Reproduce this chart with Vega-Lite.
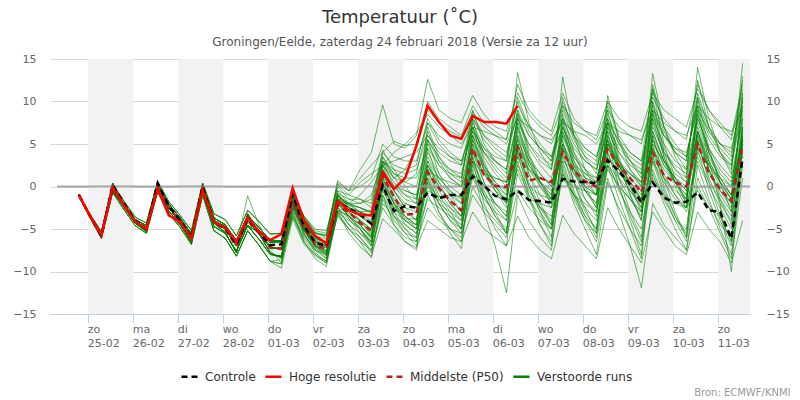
{
"$schema":"https://vega.github.io/schema/vega-lite/v6.json",
"width":700,"height":255,"autosize":"none",
"padding":{"left":50,"top":59,"right":50,"bottom":86},
"background":"white",
"title":{"text":"Temperatuur (˚C)","subtitle":"Groningen/Eelde, zaterdag 24 februari 2018 (Versie za 12 uur)","anchor":"middle","frame":"group","font":"DejaVu Sans","fontSize":18,"fontWeight":"normal","color":"#333333","subtitleFont":"DejaVu Sans","subtitleFontSize":12,"subtitleColor":"#555555","subtitlePadding":10,"offset":5},
"config":{"font":"DejaVu Sans","view":{"stroke":null},
"axis":{"labelFont":"DejaVu Sans","labelFontSize":11,"labelColor":"#666666","titleFont":"DejaVu Sans"},
"legend":{"labelFont":"DejaVu Sans","labelFontSize":12,"labelColor":"#333333","symbolSize":256,"symbolStrokeWidth":2.5,"symbolOpacity":1,"columnPadding":4,"labelOffset":6,"symbolType":"stroke"}},
"datasets":{"runs":[
{"s":"Middelste (P50)","m":"p50","t":[0,1,2,3,4,5,6,7,8,9,10,11,12,13,14,15,16,17,18,19,20,21,22,23,24,25,26,27,28,29,30,31,32,33,34,35,36,37,38,39,40,41,42,43,44,45,46,47,48,49,50,51,52,53,54,55,56,57,58,59],"v":[-1.0,-3.5,-5.7,-0.2,-2.2,-4.1,-4.9,0.0,-2.5,-4.1,-6.0,-0.3,-4.2,-5.0,-7.0,-4.0,-5.5,-7.2,-7.3,-2.1,-4.8,-6.8,-7.4,-2.2,-3.0,-4.3,-5.2,1.3,-1.2,-3.3,-3.2,1.7,-0.2,-1.7,-2.8,4.5,1.4,0.1,-0.1,4.6,0.7,1.0,0.5,4.1,1.8,0.6,0.0,4.4,2.4,1.0,-0.7,4.0,1.3,0.5,0.0,5.0,1.6,-0.3,-1.7,4.9]},
{"s":"Controle","m":"ctl","t":[0,1,2,3,4,5,6,7,8,9,10,11,12,13,14,15,16,17,18,19,20,21,22,23,24,25,26,27,28,29,30,31,32,33,34,35,36,37,38,39,40,41,42,43,44,45,46,47,48,49,50,51,52,53,54,55,56,57,58,59],"v":[-1.0,-3.5,-5.8,0.2,-2.0,-4.0,-5.0,0.4,-2.3,-4.0,-6.0,0.0,-4.2,-4.9,-6.8,-3.8,-5.3,-6.9,-6.8,-0.9,-4.6,-6.6,-7.0,-1.8,-2.6,-3.3,-4.4,0.1,-2.9,-2.3,-2.5,-0.7,-1.4,-1.0,-1.0,1.2,0.1,-1.1,-1.5,-0.5,-1.6,-1.7,-1.9,0.9,0.6,0.5,0.4,3.1,1.8,0.3,-1.9,0.5,-1.3,-1.9,-1.8,-0.7,-2.8,-3.0,-6.1,3.4]},
{"s":"Hoge resolutie","m":"hres","t":[0,1,2,3,4,5,6,7,8,9,10,11,12,13,14,15,16,17,18,19,20,21,22,23,24,25,26,27,28,29,30,31,32,33,34,35,36,37,38,39],"v":[-1.0,-3.5,-5.7,-0.1,-2.2,-4.1,-5.0,-0.3,-3.4,-4.2,-6.1,-0.4,-4.2,-4.8,-6.5,-3.6,-5.3,-6.3,-5.6,-0.2,-4.0,-5.8,-6.7,-1.7,-2.8,-3.3,-3.4,1.7,-0.3,1.0,4.8,9.5,7.6,6.0,5.6,8.3,7.6,7.6,7.4,9.5]},
{"s":"Verstoorde runs","m":"a","t":[0,1,2,3,4,5,6,7,8,9,10,11,12,13,14,15,16,17,18,19,20,21,22,23,24,25,26,27,28,29,30,31,32,33,34,35,36,37,38,39,40,41,42,43,44,45,46,47,48,49,50,51,52,53,54,55,56,57,58,59],"v":[-1.0,-3.5,-5.7,-0.2,-2.2,-4.1,-4.9,0.0,-2.5,-4.1,-6.0,-0.3,-4.2,-5.0,-7.0,-4.0,-5.5,-7.2,-7.3,-0.5,-4.0,-5.8,-6.6,-1.5,-2.5,-3.0,-2.8,2.5,1.0,2.0,4.5,9.0,7.5,6.5,5.8,8.8,7.0,6.0,5.5,9.5,7.2,6.0,5.0,8.0,6.0,4.5,3.5,7.5,5.5,4.0,3.0,8.5,6.0,4.5,4.0,9.0,6.5,5.0,4.5,10.0]},
{"s":"Verstoorde runs","m":"b","t":[0,1,2,3,4,5,6,7,8,9,10,11,12,13,14,15,16,17,18,19,20,21,22,23,24,25,26,27,28,29,30,31,32,33,34,35,36,37,38,39,40,41,42,43,44,45,46,47,48,49,50,51,52,53,54,55,56,57,58,59],"v":[-1.1,-3.6,-5.9,-0.4,-2.4,-4.3,-5.2,-0.3,-2.9,-4.5,-6.4,-0.7,-4.7,-5.5,-7.6,-4.6,-6.2,-8.0,-8.2,-1.5,-5.5,-7.5,-8.5,-1.0,-3.8,-5.5,-7.0,0.5,-3.0,-5.0,-6.5,2.0,-1.5,-3.5,-5.0,5.0,0.5,-2.5,-4.0,6.0,1.5,-2.0,-4.5,7.5,2.0,-1.5,-3.5,8.0,3.0,-1.0,-4.0,9.0,3.5,0.0,-2.5,9.5,4.0,0.5,-1.5,10.5]},
{"s":"Verstoorde runs","m":"c","t":[0,1,2,3,4,5,6,7,8,9,10,11,12,13,14,15,16,17,18,19,20,21,22,23,24,25,26,27,28,29,30,31,32,33,34,35,36,37,38,39,40,41,42,43,44,45,46,47,48,49,50,51,52,53,54,55,56,57,58,59],"v":[-0.9,-3.4,-5.5,0.0,-2.0,-3.9,-4.6,0.3,-2.1,-3.7,-5.6,0.1,-3.7,-4.5,-6.4,-3.4,-4.8,-6.4,-6.4,-1.0,-4.2,-6.0,-6.5,-2.0,-2.8,-3.5,-4.2,0.0,-2.5,-2.0,-2.5,-0.5,-1.2,-1.0,-1.2,1.5,0.2,-1.0,-1.8,-0.3,-1.5,-2.0,-2.5,1.0,0.0,-0.5,-1.0,2.5,1.0,-0.5,-2.5,1.0,-1.0,-2.0,-2.5,-0.5,-2.5,-3.5,-6.5,3.0]},
{"s":"Verstoorde runs","m":"d","t":[0,1,2,3,4,5,6,7,8,9,10,11,12,13,14,15,16,17,18,19,20,21,22,23,24,25,26,27,28,29,30,31,32,33,34,35,36,37,38,39,40,41,42,43,44,45,46,47,48,49,50,51,52,53,54,55,56,57,58,59],"v":[-0.9,-3.3,-5.3,0.3,-1.7,-3.6,-4.3,0.6,-1.8,-3.4,-5.2,0.4,-3.2,-3.9,-5.8,-2.8,-4.1,-5.6,-5.5,-0.8,-3.5,-5.2,-5.5,0.5,-0.5,2.0,4.0,9.6,5.0,4.5,6.0,12.6,9.0,8.0,7.5,10.7,8.5,7.0,6.5,11.0,8.5,7.0,6.0,9.5,7.5,6.5,6.0,10.0,8.0,7.0,6.5,11.0,9.0,8.0,7.0,11.5,9.0,7.5,6.0,12.0]},
{"s":"Verstoorde runs","m":"e","t":[0,1,2,3,4,5,6,7,8,9,10,11,12,13,14,15,16,17,18,19,20,21,22,23,24,25,26,27,28,29,30,31,32,33,34,35,36,37,38,39,40,41,42,43,44,45,46,47,48,49,50,51,52,53,54,55,56,57,58,59],"v":[-1.1,-3.7,-6.1,-0.7,-2.7,-4.6,-5.5,-0.6,-3.2,-4.8,-6.8,-1.0,-5.2,-6.1,-8.2,-5.2,-6.9,-8.8,-9.1,-3.0,-6.5,-8.5,-9.4,-3.0,-5.0,-6.5,-8.4,-1.0,-4.5,-6.5,-7.5,1.0,-3.0,-5.5,-7.3,3.0,-2.0,-5.0,-7.0,4.0,-1.0,-4.5,-6.5,5.5,0.5,-3.0,-5.0,6.5,1.0,-3.0,-6.0,5.0,0.0,-3.5,-6.0,4.5,-0.5,-4.0,-7.0,5.0]},
{"s":"Verstoorde runs","m":"f","t":[0,1,2,3,4,5,6,7,8,9,10,11,12,13,14,15,16,17,18,19,20,21,22,23,24,25,26,27,28,29,30,31,32,33,34,35,36,37,38,39,40,41,42,43,44,45,46,47,48,49,50,51,52,53,54,55,56,57,58,59],"v":[-0.9,-3.6,-6.0,0.4,-2.2,-4.3,-5.3,0.5,-2.4,-4.4,-6.6,0.3,-4.3,-5.4,-7.8,-3.2,-5.5,-7.8,-8.4,-1.8,-5.0,-7.0,-7.6,-2.5,-3.2,-4.0,-5.5,2.0,-0.5,-2.5,-3.0,3.5,1.0,-0.5,-2.0,6.0,2.5,0.5,-1.0,7.0,2.5,0.5,-1.5,6.0,2.5,0.5,-1.0,5.5,2.0,0.0,-2.5,6.5,3.0,1.0,-0.5,7.0,3.5,1.0,-1.0,7.5]},
{"s":"Verstoorde runs","m":"g","t":[0,1,2,3,4,5,6,7,8,9,10,11,12,13,14,15,16,17,18,19,20,21,22,23,24,25,26,27,28,29,30,31,32,33,34,35,36,37,38,39,40,41,42,43,44,45,46,47,48,49,50,51,52,53,54,55,56,57,58,59],"v":[-1.1,-3.4,-5.4,-0.6,-2.3,-3.9,-4.6,-0.5,-2.6,-3.9,-5.5,-0.8,-4.0,-4.7,-6.3,-4.6,-5.4,-6.6,-6.5,-0.5,-3.5,-5.5,-5.8,0.2,-1.0,-1.5,-2.0,3.5,1.5,0.5,0.0,5.5,3.5,2.0,1.0,7.5,4.5,3.0,2.0,8.0,5.0,3.5,2.5,9.0,5.5,3.5,2.5,8.5,5.0,3.0,2.0,10.0,6.5,4.0,3.0,10.5,7.0,5.0,4.0,11.0]},
{"s":"Verstoorde runs","m":"h","t":[0,1,2,3,4,5,6,7,8,9,10,11,12,13,14,15,16,17,18,19,20,21,22,23,24,25,26,27,28,29,30,31,32,33,34,35,36,37,38,39,40,41,42,43,44,45,46,47,48,49,50,51,52,53,54,55,56,57,58,59],"v":[-1.1,-3.6,-5.9,-0.4,-2.4,-4.3,-5.2,-0.3,-2.9,-4.5,-6.4,-0.7,-4.7,-5.5,-7.6,-4.6,-6.2,-8.0,-8.2,-2.5,-5.5,-7.8,-8.8,-3.0,-4.0,-5.0,-6.8,0.0,-3.5,-5.5,-6.0,0.5,-3.0,-5.0,-6.5,2.0,-3.0,-7.0,-12.5,-1.0,-4.0,-6.0,-7.5,2.5,-1.5,-4.0,-5.5,4.0,0.0,-3.5,-6.5,3.0,-1.0,-4.0,-5.0,5.0,1.0,-2.0,-4.0,6.0]},
{"s":"Verstoorde runs","m":"i","t":[0,1,2,3,4,5,6,7,8,9,10,11,12,13,14,15,16,17,18,19,20,21,22,23,24,25,26,27,28,29,30,31,32,33,34,35,36,37,38,39,40,41,42,43,44,45,46,47,48,49,50,51,52,53,54,55,56,57,58,59],"v":[-0.9,-3.4,-5.5,0.0,-2.0,-3.9,-4.6,0.3,-2.1,-3.7,-5.6,0.1,-3.7,-4.5,-6.4,-3.4,-4.8,-6.4,-6.4,-1.2,-4.5,-6.2,-7.0,-1.2,-2.0,-2.5,-3.0,4.3,2.0,0.0,-1.5,6.5,3.0,1.0,0.0,5.0,2.0,1.0,0.5,6.0,3.0,1.5,0.0,5.0,2.5,1.5,1.0,4.5,2.0,0.5,-1.0,5.5,2.5,1.0,0.0,6.0,2.5,0.0,-2.0,7.0]},
{"s":"Verstoorde runs","m":"j","t":[0,1,2,3,4,5,6,7,8,9,10,11,12,13,14,15,16,17,18,19,20,21,22,23,24,25,26,27,28,29,30,31,32,33,34,35,36,37,38,39,40,41,42,43,44,45,46,47,48,49,50,51,52,53,54,55,56,57,58,59],"v":[-1.0,-3.5,-5.7,-0.2,-2.2,-4.1,-4.9,0.0,-2.5,-4.1,-6.0,-0.3,-4.2,-5.0,-7.0,-4.0,-5.5,-7.2,-7.3,-2.0,-5.0,-7.0,-7.8,-2.8,-3.5,-4.5,-6.0,0.8,-2.0,-4.0,-5.0,0.0,-2.0,-3.0,-4.0,3.0,0.0,-2.0,-3.5,4.5,0.0,-3.0,-5.0,3.0,-1.0,-4.0,-6.5,1.0,-3.0,-7.0,-11.9,-2.0,-4.5,-6.0,-7.5,1.0,-2.0,-4.5,-6.0,4.0]},
{"s":"Verstoorde runs","m":"k","t":[0,1,2,3,4,5,6,7,8,9,10,11,12,13,14,15,16,17,18,19,20,21,22,23,24,25,26,27,28,29,30,31,32,33,34,35,36,37,38,39,40,41,42,43,44,45,46,47,48,49,50,51,52,53,54,55,56,57,58,59],"v":[-0.9,-3.6,-6.0,0.4,-2.2,-4.3,-5.3,0.5,-2.4,-4.4,-6.6,0.3,-4.3,-5.4,-7.8,-3.2,-5.5,-7.8,-8.4,-1.0,-4.8,-6.8,-7.2,-1.0,-2.5,-3.0,-3.5,3.0,0.0,-1.5,-2.0,7.0,3.5,1.5,0.5,9.0,5.0,3.0,1.5,13.4,7.5,4.0,2.0,10.5,6.0,3.5,1.5,9.5,5.5,3.0,1.0,12.0,7.0,4.0,2.0,12.5,7.0,4.0,2.0,13.0]},
{"s":"Verstoorde runs","m":"l","t":[0,1,2,3,4,5,6,7,8,9,10,11,12,13,14,15,16,17,18,19,20,21,22,23,24,25,26,27,28,29,30,31,32,33,34,35,36,37,38,39,40,41,42,43,44,45,46,47,48,49,50,51,52,53,54,55,56,57,58,59],"v":[-1.1,-3.6,-5.9,-0.4,-2.4,-4.3,-5.2,-0.3,-2.9,-4.5,-6.4,-0.7,-4.7,-5.5,-7.6,-4.6,-6.2,-8.0,-8.2,-3.5,-6.0,-7.5,-8.0,-3.5,-5.0,-6.5,-7.5,-2.0,-3.5,-4.5,-5.5,-1.5,-2.5,-3.5,-4.5,1.0,-1.5,-3.0,-4.0,2.5,-0.5,-2.5,-4.0,3.5,0.5,-1.5,-3.0,4.0,1.0,-1.5,-3.5,4.5,1.5,-1.0,-3.0,3.0,0.0,-2.5,-5.0,4.5]},
{"s":"Verstoorde runs","m":"m","t":[0,1,2,3,4,5,6,7,8,9,10,11,12,13,14,15,16,17,18,19,20,21,22,23,24,25,26,27,28,29,30,31,32,33,34,35,36,37,38,39,40,41,42,43,44,45,46,47,48,49,50,51,52,53,54,55,56,57,58,59],"v":[-0.9,-3.3,-5.3,0.3,-1.7,-3.6,-4.3,0.6,-1.8,-3.4,-5.2,0.4,-3.2,-3.9,-5.8,-2.8,-4.1,-5.6,-5.5,-0.8,-3.8,-5.5,-6.0,0.0,-1.5,-2.0,-1.5,4.0,2.5,2.0,2.5,8.0,5.5,4.0,3.0,6.5,4.5,3.5,3.0,9.0,6.0,4.5,3.5,8.0,5.0,3.0,2.0,7.0,4.5,3.0,1.5,8.0,5.0,3.0,2.0,8.5,5.5,3.5,2.5,9.0]},
{"s":"Verstoorde runs","m":"n","t":[0,1,2,3,4,5,6,7,8,9,10,11,12,13,14,15,16,17,18,19,20,21,22,23,24,25,26,27,28,29,30,31,32,33,34,35,36,37,38,39,40,41,42,43,44,45,46,47,48,49,50,51,52,53,54,55,56,57,58,59],"v":[-1.1,-3.4,-5.4,-0.6,-2.3,-3.9,-4.6,-0.5,-2.6,-3.9,-5.5,-0.8,-4.0,-4.7,-6.3,-4.6,-5.4,-6.6,-6.5,-2.2,-4.6,-6.5,-7.0,-2.0,-3.0,-4.0,-5.0,1.5,-1.0,-3.0,-4.0,2.5,0.0,-1.5,-3.0,4.5,1.5,0.0,-1.0,5.5,2.0,0.5,-0.5,4.0,1.5,0.0,-1.0,3.5,1.5,0.0,-1.5,4.0,1.0,-0.5,-1.5,5.5,2.0,-0.5,-2.5,5.0]},
{"s":"Verstoorde runs","m":"o","t":[0,1,2,3,4,5,6,7,8,9,10,11,12,13,14,15,16,17,18,19,20,21,22,23,24,25,26,27,28,29,30,31,32,33,34,35,36,37,38,39,40,41,42,43,44,45,46,47,48,49,50,51,52,53,54,55,56,57,58,59],"v":[-1.0,-3.5,-5.7,-0.2,-2.2,-4.1,-4.9,0.0,-2.5,-4.1,-6.0,-0.3,-4.2,-5.0,-7.0,-1.1,-4.5,-7.2,-7.3,-1.5,-4.8,-6.5,-7.0,-1.8,-2.0,-1.0,0.5,2.5,3.0,3.5,4.0,6.0,4.5,3.5,3.0,7.0,4.0,2.0,0.5,5.5,2.5,0.5,-1.0,6.5,3.0,1.0,0.0,6.0,3.0,1.0,-0.5,7.0,4.0,2.0,1.0,8.0,4.5,2.0,0.5,8.0]},
{"s":"Verstoorde runs","m":"p","t":[0,1,2,3,4,5,6,7,8,9,10,11,12,13,14,15,16,17,18,19,20,21,22,23,24,25,26,27,28,29,30,31,32,33,34,35,36,37,38,39,40,41,42,43,44,45,46,47,48,49,50,51,52,53,54,55,56,57,58,59],"v":[-1.1,-3.7,-6.1,-0.7,-2.7,-4.6,-5.5,-0.6,-3.2,-4.8,-6.8,-1.0,-5.2,-6.1,-8.2,-5.2,-6.9,-8.8,-9.6,-3.8,-6.8,-8.0,-9.0,-2.5,-4.5,-6.0,-7.8,-1.5,-4.0,-5.5,-7.0,-1.0,-3.5,-5.0,-6.0,0.0,-2.5,-4.0,-5.5,1.5,-1.5,-3.5,-5.0,1.5,-1.0,-3.5,-5.0,3.0,-0.5,-3.0,-5.0,2.0,-1.5,-4.0,-6.5,2.5,-1.5,-5.0,-8.0,2.5]},
{"s":"Verstoorde runs","m":"q","t":[0,1,2,3,4,5,6,7,8,9,10,11,12,13,14,15,16,17,18,19,20,21,22,23,24,25,26,27,28,29,30,31,32,33,34,35,36,37,38,39,40,41,42,43,44,45,46,47,48,49,50,51,52,53,54,55,56,57,58,59],"v":[-0.9,-3.4,-5.5,0.0,-2.0,-3.9,-4.6,0.3,-2.1,-3.7,-5.6,0.1,-3.7,-4.5,-6.4,-3.4,-4.8,-6.4,-6.4,-1.0,-4.0,-6.0,-6.8,-1.5,-2.0,-2.0,-1.0,3.0,1.5,1.0,1.0,4.5,2.5,1.5,1.0,8.0,5.5,4.0,3.0,10.5,7.0,5.0,3.5,7.0,4.5,3.0,2.0,6.5,4.0,2.5,1.5,9.0,6.0,4.5,3.5,10.0,6.5,4.5,3.0,9.5]},
{"s":"Verstoorde runs","m":"r","t":[0,1,2,3,4,5,6,7,8,9,10,11,12,13,14,15,16,17,18,19,20,21,22,23,24,25,26,27,28,29,30,31,32,33,34,35,36,37,38,39,40,41,42,43,44,45,46,47,48,49,50,51,52,53,54,55,56,57,58,59],"v":[-0.9,-3.6,-6.0,0.4,-2.2,-4.3,-5.3,0.5,-2.4,-4.4,-6.6,0.3,-4.3,-5.4,-7.8,-3.2,-5.5,-7.8,-8.4,-2.0,-5.2,-7.2,-8.2,-2.0,-3.5,-5.0,-6.5,1.8,-1.5,-3.5,-5.0,4.5,0.5,-2.0,-3.5,7.0,2.5,-0.5,-2.5,8.5,3.5,0.5,-1.5,12.9,6.0,2.0,-0.5,9.0,3.5,0.0,-3.0,10.0,4.0,0.5,-2.0,9.0,3.0,-2.0,-10.0,6.5]},
{"s":"Verstoorde runs","m":"s","t":[0,1,2,3,4,5,6,7,8,9,10,11,12,13,14,15,16,17,18,19,20,21,22,23,24,25,26,27,28,29,30,31,32,33,34,35,36,37,38,39,40,41,42,43,44,45,46,47,48,49,50,51,52,53,54,55,56,57,58,59],"v":[-1.0,-3.5,-5.7,-0.2,-2.2,-4.1,-4.9,0.0,-2.5,-4.1,-6.0,-0.3,-4.2,-5.0,-7.0,-4.0,-5.5,-7.2,-7.3,-2.6,-5.2,-7.0,-7.9,-2.8,-3.4,-4.8,-5.8,1.0,-1.8,-3.8,-3.8,2.5,0.5,-1.0,-2.0,5.5,2.5,0.5,-0.5,3.5,0.0,-1.0,-1.5,4.5,2.0,0.0,-1.0,5.0,2.5,1.5,0.5,4.5,2.0,0.5,-1.0,6.5,2.5,0.5,-1.0,5.5]},
{"s":"Verstoorde runs","m":"t","t":[0,1,2,3,4,5,6,7,8,9,10,11,12,13,14,15,16,17,18,19,20,21,22,23,24,25,26,27,28,29,30,31,32,33,34,35,36,37,38,39,40,41,42,43,44,45,46,47,48,49,50,51,52,53,54,55,56,57,58,59],"v":[-1.1,-3.4,-5.4,-0.6,-2.3,-3.9,-4.6,-0.5,-2.6,-3.9,-5.5,-0.8,-4.0,-4.7,-6.3,-4.6,-5.4,-6.6,-6.5,-1.5,-4.4,-6.3,-7.0,-0.8,-2.5,-4.0,-5.8,0.5,-2.0,-4.5,-5.5,1.0,-2.0,-4.0,-5.0,2.5,-1.0,-3.5,-5.0,3.0,-1.5,-4.5,-7.0,2.0,-2.0,-5.0,-8.0,0.5,-2.5,-5.0,-7.0,1.5,-2.0,-5.0,-7.5,0.0,-2.5,-5.5,-8.5,1.0]},
{"s":"Verstoorde runs","m":"u","t":[0,1,2,3,4,5,6,7,8,9,10,11,12,13,14,15,16,17,18,19,20,21,22,23,24,25,26,27,28,29,30,31,32,33,34,35,36,37,38,39,40,41,42,43,44,45,46,47,48,49,50,51,52,53,54,55,56,57,58,59],"v":[-0.9,-3.4,-5.5,0.0,-2.0,-3.9,-4.6,0.3,-2.1,-3.7,-5.6,0.1,-3.7,-4.5,-6.4,-3.4,-4.8,-6.4,-6.4,-0.8,-3.5,-5.0,-5.2,-0.5,-1.0,0.5,1.5,2.5,4.0,5.0,6.3,8.5,7.0,6.0,5.0,7.0,6.5,6.0,5.0,8.0,7.0,6.0,5.5,7.5,6.5,6.0,5.0,7.5,6.5,6.0,5.5,9.0,7.5,6.5,6.0,9.5,8.0,7.0,6.5,9.0]},
{"s":"Verstoorde runs","m":"v","t":[0,1,2,3,4,5,6,7,8,9,10,11,12,13,14,15,16,17,18,19,20,21,22,23,24,25,26,27,28,29,30,31,32,33,34,35,36,37,38,39,40,41,42,43,44,45,46,47,48,49,50,51,52,53,54,55,56,57,58,59],"v":[-1.1,-3.6,-5.9,-0.4,-2.4,-4.3,-5.2,-0.3,-2.9,-4.5,-6.4,-0.7,-4.7,-5.5,-7.6,-4.6,-6.2,-8.0,-8.2,-2.8,-5.8,-7.2,-8.0,-2.8,-4.5,-5.5,-6.5,-0.5,-3.0,-4.0,-4.5,3.0,0.0,-2.0,-3.5,6.0,2.0,-0.5,-2.0,7.5,3.0,0.0,-2.0,8.5,4.0,1.0,-1.0,10.7,5.5,2.0,0.0,13.3,7.0,3.5,1.0,14.0,8.0,4.0,1.5,14.5]},
{"s":"Verstoorde runs","m":"w","t":[0,1,2,3,4,5,6,7,8,9,10,11,12,13,14,15,16,17,18,19,20,21,22,23,24,25,26,27,28,29,30,31,32,33,34,35,36,37,38,39,40,41,42,43,44,45,46,47,48,49,50,51,52,53,54,55,56,57,58,59],"v":[-1.0,-3.5,-5.7,-0.2,-2.2,-4.1,-4.9,0.0,-2.5,-4.1,-6.0,-0.3,-4.2,-5.0,-7.0,-4.0,-5.5,-7.2,-7.3,-1.2,-4.3,-6.0,-6.5,-0.5,-2.0,-3.0,-4.0,2.5,0.5,-1.0,-2.0,5.0,2.5,1.0,0.0,6.5,3.5,1.5,0.0,7.0,3.5,1.5,0.0,7.0,3.5,1.5,0.5,7.5,4.0,2.0,0.5,8.5,4.5,2.0,0.5,7.5,4.0,1.5,0.0,8.5]},
{"s":"Verstoorde runs","m":"x","t":[0,1,2,3,4,5,6,7,8,9,10,11,12,13,14,15,16,17,18,19,20,21,22,23,24,25,26,27,28,29,30,31,32,33,34,35,36,37,38,39,40,41,42,43,44,45,46,47,48,49,50,51,52,53,54,55,56,57,58,59],"v":[-1.1,-3.7,-6.1,-0.7,-2.7,-4.6,-5.5,-0.6,-3.2,-4.8,-6.8,-1.0,-5.2,-6.1,-8.2,-5.2,-6.9,-8.8,-9.1,-3.2,-6.2,-8.0,-8.8,-3.0,-5.5,-7.1,-8.2,-3.8,-5.1,-6.5,-7.2,-4.0,-5.0,-6.0,-6.5,-3.0,-5.0,-6.0,-7.0,-3.5,-6.0,-7.5,-8.5,-3.4,-5.5,-7.0,-8.5,-2.5,-5.0,-7.0,-9.0,-3.0,-5.0,-7.0,-8.0,-3.0,-5.0,-6.5,-9.0,-4.0]},
{"s":"Verstoorde runs","m":"y","t":[0,1,2,3,4,5,6,7,8,9,10,11,12,13,14,15,16,17,18,19,20,21,22,23,24,25,26,27,28,29,30,31,32,33,34,35,36,37,38,39,40,41,42,43,44,45,46,47,48,49,50,51,52,53,54,55,56,57,58,59],"v":[-0.9,-3.6,-6.0,0.4,-2.2,-4.3,-5.3,0.5,-2.4,-4.4,-6.6,0.3,-4.3,-5.4,-7.8,-3.2,-5.5,-7.8,-8.4,-1.5,-5.0,-6.5,-7.0,-1.8,-2.5,-3.0,-4.5,3.5,1.0,-0.5,-1.0,4.0,1.5,0.0,-1.0,5.5,2.0,0.0,-1.5,6.5,3.0,0.5,-1.0,5.0,2.0,-0.5,-2.5,6.0,2.5,0.0,-2.0,6.5,3.0,0.5,-1.5,6.0,2.0,-1.0,-3.0,7.0]},
{"s":"Verstoorde runs","m":"z","t":[0,1,2,3,4,5,6,7,8,9,10,11,12,13,14,15,16,17,18,19,20,21,22,23,24,25,26,27,28,29,30,31,32,33,34,35,36,37,38,39,40,41,42,43,44,45,46,47,48,49,50,51,52,53,54,55,56,57,58,59],"v":[-0.9,-3.4,-5.5,0.0,-2.0,-3.9,-4.6,0.3,-2.1,-3.7,-5.6,0.1,-3.7,-4.5,-6.4,-3.4,-4.8,-6.4,-6.4,-0.6,-3.8,-5.5,-5.8,0.7,-0.5,1.0,2.5,4.0,5.3,4.8,5.0,10.0,8.0,7.0,6.0,9.5,7.5,6.5,5.5,12.0,9.0,7.5,6.5,11.0,8.0,6.5,5.5,9.0,7.0,6.0,5.0,10.5,8.0,6.5,5.5,12.0,9.0,7.0,5.5,11.5]},
{"s":"Verstoorde runs","m":"A","t":[0,1,2,3,4,5,6,7,8,9,10,11,12,13,14,15,16,17,18,19,20,21,22,23,24,25,26,27,28,29,30,31,32,33,34,35,36,37,38,39,40,41,42,43,44,45,46,47,48,49,50,51,52,53,54,55,56,57,58,59],"v":[-1.1,-3.6,-5.9,-0.4,-2.4,-4.3,-5.2,-0.3,-2.9,-4.5,-6.4,-0.7,-4.7,-5.5,-7.6,-4.6,-6.2,-8.0,-8.2,-2.0,-5.2,-7.0,-8.0,-2.5,-3.8,-5.0,-7.0,-1.0,-3.5,-5.0,-6.0,2.0,-1.0,-3.0,-5.0,3.5,-0.5,-3.0,-5.5,4.5,0.0,-3.0,-6.0,5.0,0.5,-2.5,-5.5,5.5,0.0,-4.0,-8.0,6.0,1.0,-3.0,-6.0,5.5,0.5,-3.5,-6.5,5.5]},
{"s":"Verstoorde runs","m":"B","t":[0,1,2,3,4,5,6,7,8,9,10,11,12,13,14,15,16,17,18,19,20,21,22,23,24,25,26,27,28,29,30,31,32,33,34,35,36,37,38,39,40,41,42,43,44,45,46,47,48,49,50,51,52,53,54,55,56,57,58,59],"v":[-1.0,-3.5,-5.7,-0.2,-2.2,-4.1,-4.9,0.0,-2.5,-4.1,-6.0,-0.3,-4.2,-5.0,-7.0,-4.0,-5.5,-7.2,-7.3,-1.8,-4.5,-6.4,-7.2,-1.5,-2.5,-3.5,-4.5,3.0,1.0,0.5,1.5,7.5,5.0,3.5,2.5,8.5,6.0,4.5,3.5,10.0,6.5,4.5,3.0,10.0,6.5,4.5,3.5,8.0,5.0,3.5,2.5,9.5,6.0,4.0,3.0,11.0,7.0,5.0,3.5,12.5]},
{"s":"Verstoorde runs","m":"C","t":[0,1,2,3,4,5,6,7,8,9,10,11,12,13,14,15,16,17,18,19,20,21,22,23,24,25,26,27,28,29,30,31,32,33,34,35,36,37,38,39,40,41,42,43,44,45,46,47,48,49,50,51,52,53,54,55,56,57,58,59],"v":[-1.1,-3.4,-5.4,-0.6,-2.3,-3.9,-4.6,-0.5,-2.6,-3.9,-5.5,-0.8,-4.0,-4.7,-6.3,-4.6,-5.4,-6.6,-6.5,-2.5,-5.0,-6.8,-7.5,-2.0,-3.5,-4.5,-6.0,0.0,-2.5,-3.5,-4.5,0.5,-1.5,-2.5,-3.5,1.5,-1.0,-2.0,-3.0,2.0,-1.0,-2.5,-3.5,1.5,-1.0,-2.0,-3.0,2.5,0.0,-1.5,-3.0,3.0,0.5,-1.5,-2.5,3.5,0.5,-1.5,-3.5,4.0]},
{"s":"Verstoorde runs","m":"D","t":[0,1,2,3,4,5,6,7,8,9,10,11,12,13,14,15,16,17,18,19,20,21,22,23,24,25,26,27,28,29,30,31,32,33,34,35,36,37,38,39,40,41,42,43,44,45,46,47,48,49,50,51,52,53,54,55,56,57,58,59],"v":[-0.9,-3.4,-5.5,0.0,-2.0,-3.9,-4.6,0.3,-2.1,-3.7,-5.6,0.1,-3.7,-4.5,-6.4,-3.4,-4.8,-6.4,-6.4,-1.0,-4.5,-6.0,-6.8,-1.0,-2.2,-2.5,-3.2,2.0,0.0,-1.0,-1.5,5.5,3.0,2.0,1.5,7.0,4.0,2.5,1.0,8.0,4.5,2.5,1.0,6.0,3.5,2.0,1.0,5.0,3.0,1.5,0.0,7.5,4.0,2.5,1.5,8.0,4.5,2.5,1.0,8.0]},
{"s":"Verstoorde runs","m":"E","t":[0,1,2,3,4,5,6,7,8,9,10,11,12,13,14,15,16,17,18,19,20,21,22,23,24,25,26,27,28,29,30,31,32,33,34,35,36,37,38,39,40,41,42,43,44,45,46,47,48,49,50,51,52,53,54,55,56,57,58,59],"v":[-1.1,-3.4,-5.4,-0.6,-2.3,-3.9,-4.6,-0.5,-2.6,-3.9,-5.5,-0.8,-4.0,-4.7,-6.8,-4.6,-5.4,-7.0,-7.5,-1.8,-4.9,-6.9,-7.6,-1.5,-3.0,-4.5,-6.2,1.0,-2.0,-3.5,-4.5,2.5,-0.5,-2.5,-4.0,4.0,0.5,-2.0,-3.5,5.0,1.5,-1.0,-2.5,6.5,2.5,-0.5,-2.0,7.0,3.0,0.5,-1.5,8.0,3.5,0.5,-1.5,8.5,4.0,1.0,-1.0,9.5]},
{"s":"Verstoorde runs","m":"F","t":[0,1,2,3,4,5,6,7,8,9,10,11,12,13,14,15,16,17,18,19,20,21,22,23,24,25,26,27,28,29,30,31,32,33,34,35,36,37,38,39,40,41,42,43,44,45,46,47,48,49,50,51,52,53,54,55,56,57,58,59],"v":[-0.9,-3.4,-5.5,0.0,-2.0,-3.9,-4.6,0.3,-2.1,-3.7,-5.6,0.1,-3.7,-4.5,-6.4,-3.4,-4.8,-6.4,-6.4,-0.9,-4.2,-5.8,-6.2,-0.8,-1.5,-1.5,-2.5,3.0,2.0,1.5,2.0,6.0,4.0,3.0,2.5,6.0,4.0,3.0,2.0,7.5,5.0,3.0,2.0,9.5,6.0,4.0,3.0,10.0,6.0,4.0,3.0,11.5,7.0,5.0,3.5,9.5,6.0,4.0,2.5,10.5]},
{"s":"Verstoorde runs","m":"G","t":[0,1,2,3,4,5,6,7,8,9,10,11,12,13,14,15,16,17,18,19,20,21,22,23,24,25,26,27,28,29,30,31,32,33,34,35,36,37,38,39,40,41,42,43,44,45,46,47,48,49,50,51,52,53,54,55,56,57,58,59],"v":[-1.1,-3.6,-5.9,-0.4,-2.4,-4.3,-5.2,-0.3,-2.9,-4.5,-6.4,-0.7,-4.7,-5.5,-7.6,-4.6,-6.2,-7.5,-9.0,-2.2,-5.6,-7.4,-8.4,-2.0,-3.5,-5.0,-6.5,0.5,-2.5,-4.0,-5.0,1.5,-2.0,-4.0,-5.5,3.5,-1.0,-3.5,-5.5,5.0,0.5,-2.5,-4.5,4.0,-0.5,-3.5,-6.0,2.5,-1.5,-5.0,-8.5,3.5,-0.5,-3.5,-5.5,6.5,2.0,-1.5,-4.5,7.0]},
{"s":"Verstoorde runs","m":"H","t":[0,1,2,3,4,5,6,7,8,9,10,11,12,13,14,15,16,17,18,19,20,21,22,23,24,25,26,27,28,29,30,31,32,33,34,35,36,37,38,39,40,41,42,43,44,45,46,47,48,49,50,51,52,53,54,55,56,57,58,59],"v":[-1.0,-3.5,-5.7,-0.2,-2.2,-4.1,-4.9,0.0,-2.5,-4.1,-6.0,-0.3,-4.2,-5.0,-7.0,-4.0,-5.5,-7.2,-7.3,-1.5,-4.5,-6.0,-6.8,-1.0,-2.0,-2.5,-3.0,1.0,0.0,-0.5,-1.0,2.0,1.0,0.5,0.0,3.0,1.5,1.0,0.5,3.5,2.0,1.0,0.5,3.0,2.0,1.0,0.5,4.5,2.5,1.5,0.5,5.0,3.0,1.5,0.5,4.5,2.5,1.0,0.0,5.5]},
{"s":"Verstoorde runs","m":"I","t":[0,1,2,3,4,5,6,7,8,9,10,11,12,13,14,15,16,17,18,19,20,21,22,23,24,25,26,27,28,29,30,31,32,33,34,35,36,37,38,39,40,41,42,43,44,45,46,47,48,49,50,51,52,53,54,55,56,57,58,59],"v":[-0.9,-3.6,-6.0,0.4,-2.2,-4.3,-5.3,0.5,-2.4,-4.4,-6.6,0.3,-4.3,-5.4,-7.8,-3.2,-5.5,-7.8,-8.4,-1.2,-4.9,-7.0,-7.8,-1.5,-3.0,-4.0,-5.0,2.5,-0.5,-2.5,-4.0,5.5,1.5,-1.0,-3.0,8.0,3.0,0.0,-2.0,9.0,4.0,0.5,-2.0,8.0,3.0,0.0,-2.5,7.5,2.5,-1.0,-4.0,11.5,5.0,1.0,-2.0,10.5,4.5,0.5,-3.0,11.0]},
{"s":"Verstoorde runs","m":"J","t":[0,1,2,3,4,5,6,7,8,9,10,11,12,13,14,15,16,17,18,19,20,21,22,23,24,25,26,27,28,29,30,31,32,33,34,35,36,37,38,39,40,41,42,43,44,45,46,47,48,49,50,51,52,53,54,55,56,57,58,59],"v":[-0.9,-3.3,-5.3,0.3,-1.7,-3.6,-4.3,0.6,-1.8,-3.4,-5.2,0.4,-3.2,-3.9,-5.8,-2.8,-4.1,-5.6,-5.5,-0.7,-3.6,-5.4,-5.7,0.3,-0.5,0.0,1.0,5.0,3.5,3.0,3.0,7.5,6.0,5.0,4.5,8.0,6.0,5.0,4.0,8.5,6.0,4.5,3.0,7.0,4.0,2.0,0.5,5.5,2.5,0.5,-1.5,6.0,3.0,1.0,-0.5,6.5,3.0,0.5,-1.5,6.0]},
{"s":"Verstoorde runs","m":"K","t":[0,1,2,3,4,5,6,7,8,9,10,11,12,13,14,15,16,17,18,19,20,21,22,23,24,25,26,27,28,29,30,31,32,33,34,35,36,37,38,39,40,41,42,43,44,45,46,47,48,49,50,51,52,53,54,55,56,57,58,59],"v":[-1.1,-3.7,-6.1,-0.7,-2.7,-4.6,-5.5,-0.6,-3.2,-4.8,-6.8,-1.0,-5.2,-6.1,-8.2,-5.2,-6.9,-8.8,-8.6,-3.5,-6.5,-8.2,-9.0,-3.3,-5.0,-6.0,-7.5,-2.5,-4.5,-6.0,-6.5,-2.5,-4.0,-5.0,-5.5,-1.0,-3.0,-4.5,-6.0,-0.5,-2.5,-4.0,-5.0,1.0,-1.0,-2.5,-4.0,2.0,0.0,-1.5,-3.0,3.5,1.0,-1.0,-2.5,4.0,1.5,-0.5,-2.0,5.5]},
{"s":"Verstoorde runs","m":"L","t":[0,1,2,3,4,5,6,7,8,9,10,11,12,13,14,15,16,17,18,19,20,21,22,23,24,25,26,27,28,29,30,31,32,33,34,35,36,37,38,39,40,41,42,43,44,45,46,47,48,49,50,51,52,53,54,55,56,57,58,59],"v":[-0.9,-3.4,-5.5,0.0,-2.0,-3.9,-4.6,0.3,-2.1,-3.7,-5.6,0.1,-3.7,-4.5,-6.4,-3.4,-4.8,-6.4,-6.4,-1.1,-4.4,-6.1,-6.6,-1.3,-2.2,-3.0,-3.5,2.0,-0.5,-2.0,-2.5,3.0,1.0,-0.5,-1.5,4.0,1.5,-0.5,-1.5,5.0,2.0,0.0,-1.5,4.5,1.5,-0.5,-2.0,5.0,2.0,-0.5,-2.0,5.5,2.5,0.5,-1.0,6.5,3.0,0.5,-1.5,6.5]}
]},
"data":{"name":"runs"},
"transform":[
{"flatten":["t","v"]},
{"lookup":"t","from":{"data":{"values":[
{"t":0,"d":1519498800000},{"t":1,"d":1519520400000},{"t":2,"d":1519542000000},{"t":3,"d":1519563600000},{"t":4,"d":1519585200000},
{"t":5,"d":1519606800000},{"t":6,"d":1519628400000},{"t":7,"d":1519650000000},{"t":8,"d":1519671600000},
{"t":9,"d":1519693200000},{"t":10,"d":1519714800000},{"t":11,"d":1519736400000},{"t":12,"d":1519758000000},
{"t":13,"d":1519779600000},{"t":14,"d":1519801200000},{"t":15,"d":1519822800000},{"t":16,"d":1519844400000},
{"t":17,"d":1519866000000},{"t":18,"d":1519887600000},{"t":19,"d":1519909200000},{"t":20,"d":1519930800000},
{"t":21,"d":1519952400000},{"t":22,"d":1519974000000},{"t":23,"d":1519995600000},{"t":24,"d":1520017200000},
{"t":25,"d":1520038800000},{"t":26,"d":1520060400000},{"t":27,"d":1520082000000},{"t":28,"d":1520103600000},
{"t":29,"d":1520125200000},{"t":30,"d":1520146800000},{"t":31,"d":1520168400000},{"t":32,"d":1520190000000},
{"t":33,"d":1520211600000},{"t":34,"d":1520233200000},{"t":35,"d":1520254800000},{"t":36,"d":1520276400000},
{"t":37,"d":1520298000000},{"t":38,"d":1520319600000},{"t":39,"d":1520341200000},{"t":40,"d":1520362800000},
{"t":41,"d":1520384400000},{"t":42,"d":1520406000000},{"t":43,"d":1520427600000},{"t":44,"d":1520449200000},
{"t":45,"d":1520470800000},{"t":46,"d":1520492400000},{"t":47,"d":1520514000000},{"t":48,"d":1520535600000},
{"t":49,"d":1520557200000},{"t":50,"d":1520578800000},{"t":51,"d":1520600400000},{"t":52,"d":1520622000000},
{"t":53,"d":1520643600000},{"t":54,"d":1520665200000},{"t":55,"d":1520686800000},{"t":56,"d":1520708400000},
{"t":57,"d":1520730000000},{"t":58,"d":1520751600000},{"t":59,"d":1520773200000}]},"key":"t","fields":["d"]}}
],
"resolve":{"axis":{"y":"independent"}},
"layer":[
{"data":{"values":[{"a":"2018-02-25T00:00Z","b":"2018-02-26T00:00Z"},{"a":"2018-02-27T00:00Z","b":"2018-02-28T00:00Z"},{"a":"2018-03-01T00:00Z","b":"2018-03-02T00:00Z"},{"a":"2018-03-03T00:00Z","b":"2018-03-04T00:00Z"},{"a":"2018-03-05T00:00Z","b":"2018-03-06T00:00Z"},{"a":"2018-03-07T00:00Z","b":"2018-03-08T00:00Z"},{"a":"2018-03-09T00:00Z","b":"2018-03-10T00:00Z"},{"a":"2018-03-11T00:00Z","b":"2018-03-12T00:00Z"}],"format":{"parse":{"a":"date","b":"date"}}},
"mark":{"type":"rect","color":"#f2f2f2","clip":true},
"encoding":{"x":{"field":"a","type":"temporal","scale":{"type":"utc","domain":[{"year":2018,"month":2,"date":24,"hours":3,"minutes":35,"utc":true},{"year":2018,"month":3,"date":11,"hours":16,"minutes":55,"utc":true}]},
"axis":{"tickCount":{"interval":"day","step":1},"labelExpr":"[['zo','ma','di','wo','do','vr','za'][utcday(datum.value)], utcFormat(datum.value, '%d-%m')]","labelAlign":"left","labelBaseline":"top","labelPadding":0,"labelOffset":-1,"labelLineHeight":14,"labelOverlap":false,"labelBound":false,"labelFlush":false,"tickSize":9,"tickColor":"#c0d0e0","domainColor":"#c0d0e0","grid":false,"title":"Bron: ECMWF/KNMI","titleX":740,"titleY":81,"titleAlign":"right","titleAnchor":null,"titleBaseline":"alphabetic","titleFontSize":10,"titleFontWeight":"normal","titleColor":"#999999"}},
"x2":{"field":"b"}}},
{"transform":[{"filter":"datum.s==='Verstoorde runs'"}],
"mark":{"type":"line","strokeWidth":1,"opacity":0.6,"clip":true},
"encoding":{"x":{"field":"d","type":"temporal"},
"y":{"field":"v","type":"quantitative","scale":{"domain":[-15,15],"nice":false},"axis":{"values":[-15,-10,-5,0,5,10,15],"title":null,"domain":false,"ticks":false,"labelPadding":14,"grid":true,"gridColor":"#d8d8d8"}},
"color":{"field":"s","type":"nominal","title":null,"scale":{"domain":["Controle","Hoge resolutie","Middelste (P50)","Verstoorde runs"],"range":["#000000","#ff0000","#b22222","#008000"]},"legend":{"orient":"none","legendX":130,"legendY":308,"direction":"horizontal"}},
"strokeDash":{"field":"s","type":"nominal","title":null,"scale":{"domain":["Controle","Hoge resolutie","Middelste (P50)","Verstoorde runs"],"range":[[6,4],[1,0],[6,4],[1,0]]},"legend":{"orient":"none","legendX":130,"legendY":308,"direction":"horizontal"}},
"detail":{"field":"m"}}},
{"data":{"values":[{"a":"2018-02-24T07:20Z","b":"2018-03-11T16:55Z","y":0}],"format":{"parse":{"a":"date","b":"date"}}},
"mark":{"type":"rule","color":"#999999","strokeWidth":2,"opacity":0.85},
"encoding":{"x":{"field":"a","type":"temporal"},"x2":{"field":"b"},"y":{"field":"y","type":"quantitative","axis":null}}},
{"transform":[{"filter":"datum.s==='Middelste (P50)' || datum.s==='Controle'"}],
"mark":{"type":"line","strokeWidth":2.5,"clip":true},
"encoding":{"x":{"field":"d","type":"temporal"},
"y":{"field":"v","type":"quantitative","axis":{"orient":"right","values":[-15,-10,-5,0,5,10,15],"title":null,"domain":false,"ticks":false,"labelPadding":16,"grid":false}},
"color":{"field":"s","type":"nominal","title":null,"legend":{"orient":"none","legendX":130,"legendY":308,"direction":"horizontal"}},
"strokeDash":{"field":"s","type":"nominal","title":null,"legend":{"orient":"none","legendX":130,"legendY":308,"direction":"horizontal"}},
"detail":{"field":"m"}}},
{"transform":[{"filter":"datum.s==='Hoge resolutie'"}],
"mark":{"type":"line","strokeWidth":2.5,"clip":true},
"encoding":{"x":{"field":"d","type":"temporal"},
"y":{"field":"v","type":"quantitative","axis":null},
"color":{"field":"s","type":"nominal","title":null,"legend":{"orient":"none","legendX":130,"legendY":308,"direction":"horizontal"}},
"strokeDash":{"field":"s","type":"nominal","title":null,"legend":{"orient":"none","legendX":130,"legendY":308,"direction":"horizontal"}},
"detail":{"field":"m"}}}
]
}
